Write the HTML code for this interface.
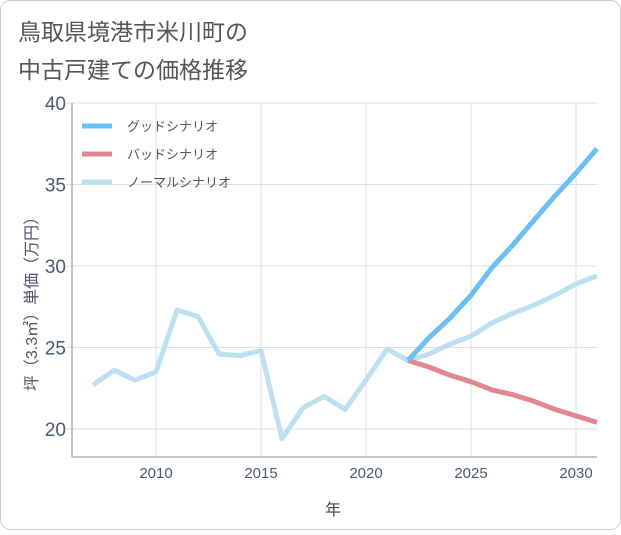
<!DOCTYPE html>
<html><head><meta charset="utf-8"><style>
body{margin:0;background:#fff;}
#wrap{position:relative;width:621px;height:530px;font-family:"Liberation Sans","Noto Sans CJK JP",sans-serif;}
svg text{font-family:"Liberation Sans","Noto Sans CJK JP",sans-serif;}
</style></head><body>
<div id="wrap">
<svg id="chart" width="621" height="530">
<rect x="0.5" y="0.5" width="620" height="529" rx="10" fill="#fff" stroke="#ccc"/>
<text x="18" y="40" font-size="23" fill="#555">鳥取県境港市米川町の</text>
<text x="18" y="78" font-size="23" fill="#555">中古戸建ての価格推移</text>
<g id="grid"></g>
<g id="axes"></g>
<g id="lines"></g>
<g id="legend"></g>
<text x="333" y="515" font-size="16" fill="#444" text-anchor="middle">年</text>
<text transform="translate(37,300) rotate(-90)" font-size="16" fill="#4a5566" text-anchor="middle">坪（3.3㎡）単価（万円）</text>
</svg>
</div>
<script>
const years=[2007,2008,2009,2010,2011,2012,2013,2014,2015,2016,2017,2018,2019,2020,2021,2022,2023,2024,2025,2026,2027,2028,2029,2030,2031];
const normalValues=[22.7,23.6,23.0,23.5,27.3,26.9,24.6,24.5,24.8,19.4,21.3,22.0,21.2,23.0,24.9,24.2,24.6,25.2,25.7,26.5,27.1,27.6,28.2,28.9,29.4];
const futureYears=[2022,2023,2024,2025,2026,2027,2028,2029,2030,2031];
const goodValues=[24.2,25.6,26.8,28.2,29.9,31.3,32.8,34.3,35.7,37.2];
const badValues=[24.2,23.8,23.3,22.9,22.4,22.1,21.7,21.2,20.8,20.4];
const xTicks=[2010,2015,2020,2025,2030];
const yTicks=[20,25,30,35,40];
const seriesNames=["グッドシナリオ","バッドシナリオ","ノーマルシナリオ"];
const L=72,R=597,T=103,B=457;
const X0=2006,X1=2031,Y0=18.28,Y1=40;
const sx=v=>L+(v-X0)/(X1-X0)*(R-L);
const sy=v=>B-(v-Y0)/(Y1-Y0)*(B-T);
const NS="http://www.w3.org/2000/svg";
function mk(tag,attrs,parent){const e=document.createElementNS(NS,tag);for(const k in attrs)e.setAttribute(k,attrs[k]);parent.appendChild(e);return e;}
const grid=document.getElementById('grid'),axes=document.getElementById('axes'),lines=document.getElementById('lines'),legend=document.getElementById('legend');
xTicks.forEach(t=>{
 const l=mk('line',{x1:sx(t),x2:sx(t),y1:T,y2:B,stroke:'#d5e1ea','stroke-width':1},grid);
 
 
 const tx=mk('text',{x:sx(t),y:B+21,'font-size':15,fill:'#4a5a70','text-anchor':'middle'},axes);
 tx.textContent=t;
 
 
});
yTicks.forEach(t=>{
 const l=mk('line',{x1:L-6,x2:R,y1:sy(t),y2:sy(t),stroke:'#d5e1ea','stroke-width':1},grid);
 
 
 const tx=mk('text',{x:L-6,y:sy(t)+7,'font-size':19,fill:'#4a5a70','text-anchor':'end'},axes);
 tx.textContent=t;
 
 
});
const ax=mk('path',{d:`M${L},${T}V${B}H${R}`,fill:'none',stroke:'#888','stroke-width':1},axes);


function series(xs,ys,color,name){
 const d=xs.map((x,i)=>(i?'L':'M')+sx(x).toFixed(1)+','+sy(ys[i]).toFixed(1)).join('');
 const p=mk('path',{d:d,fill:'none',stroke:color,'stroke-width':5,'stroke-linejoin':'round'},lines);
 
 
}
series(years,normalValues,'#bde0f0','normal-scenario-line');
series(futureYears,badValues,'#e0888f','bad-scenario-line');
series(futureYears,goodValues,'#6cbff2','good-scenario-line');
const lc=['#6cbff2','#e0888f','#bde0f0'];
seriesNames.forEach((n,i)=>{
 const y=126+i*28;
 const s=mk('line',{x1:82,x2:112,y1:y,y2:y,stroke:lc[i],'stroke-width':5},legend);
 
 
 const t=mk('text',{x:127,y:y+5,'font-size':13,fill:'#555'},legend);
 t.textContent=n;
 
 
});
</script>
</body></html>
